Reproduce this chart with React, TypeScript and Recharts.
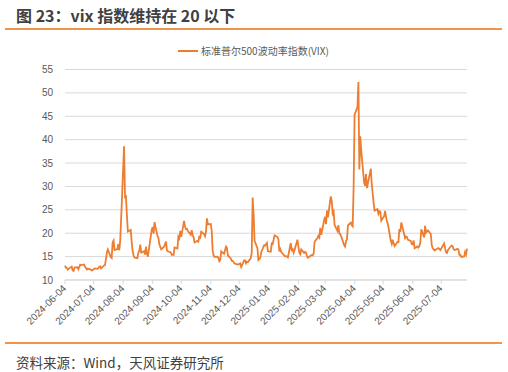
import { LineChart, Line, XAxis, YAxis, CartesianGrid } from "recharts";

// trading days, one row per month
const dates = [
  "2024-06-04","2024-06-05","2024-06-06","2024-06-07","2024-06-10","2024-06-11","2024-06-12","2024-06-13","2024-06-14","2024-06-17","2024-06-18","2024-06-20","2024-06-21","2024-06-24","2024-06-25","2024-06-26","2024-06-27","2024-06-28",
  "2024-07-01","2024-07-02","2024-07-03","2024-07-05","2024-07-08","2024-07-09","2024-07-10","2024-07-11","2024-07-12","2024-07-15","2024-07-16","2024-07-17","2024-07-18","2024-07-19","2024-07-22","2024-07-23","2024-07-24","2024-07-25","2024-07-26","2024-07-29","2024-07-30","2024-07-31",
  "2024-08-01","2024-08-02","2024-08-05","2024-08-06","2024-08-07","2024-08-08","2024-08-09","2024-08-12","2024-08-13","2024-08-14","2024-08-15","2024-08-16","2024-08-19","2024-08-20","2024-08-21","2024-08-22","2024-08-23","2024-08-26","2024-08-27","2024-08-28","2024-08-29","2024-08-30",
  "2024-09-03","2024-09-04","2024-09-05","2024-09-06","2024-09-09","2024-09-10","2024-09-11","2024-09-12","2024-09-13","2024-09-16","2024-09-17","2024-09-18","2024-09-19","2024-09-20","2024-09-23","2024-09-24","2024-09-25","2024-09-26","2024-09-27","2024-09-30",
  "2024-10-01","2024-10-02","2024-10-03","2024-10-04","2024-10-07","2024-10-08","2024-10-09","2024-10-10","2024-10-11","2024-10-14","2024-10-15","2024-10-16","2024-10-17","2024-10-18","2024-10-21","2024-10-22","2024-10-23","2024-10-24","2024-10-25","2024-10-28","2024-10-29","2024-10-30","2024-10-31",
  "2024-11-01","2024-11-04","2024-11-05","2024-11-06","2024-11-07","2024-11-08","2024-11-11","2024-11-12","2024-11-13","2024-11-14","2024-11-15","2024-11-18","2024-11-19","2024-11-20","2024-11-21","2024-11-22","2024-11-25","2024-11-26","2024-11-27","2024-11-29",
  "2024-12-02","2024-12-03","2024-12-04","2024-12-05","2024-12-06","2024-12-09","2024-12-10","2024-12-11","2024-12-12","2024-12-13","2024-12-16","2024-12-17","2024-12-18","2024-12-19","2024-12-20","2024-12-23","2024-12-24","2024-12-26","2024-12-27","2024-12-30","2024-12-31",
  "2025-01-02","2025-01-03","2025-01-06","2025-01-07","2025-01-08","2025-01-10","2025-01-13","2025-01-14","2025-01-15","2025-01-16","2025-01-17","2025-01-21","2025-01-22","2025-01-23","2025-01-24","2025-01-27","2025-01-28","2025-01-29","2025-01-30","2025-01-31",
  "2025-02-03","2025-02-04","2025-02-05","2025-02-06","2025-02-07","2025-02-10","2025-02-11","2025-02-12","2025-02-13","2025-02-14","2025-02-18","2025-02-19","2025-02-20","2025-02-21","2025-02-24","2025-02-25","2025-02-26","2025-02-27","2025-02-28",
  "2025-03-03","2025-03-04","2025-03-05","2025-03-06","2025-03-07","2025-03-10","2025-03-11","2025-03-12","2025-03-13","2025-03-14","2025-03-17","2025-03-18","2025-03-19","2025-03-20","2025-03-21","2025-03-24","2025-03-25","2025-03-26","2025-03-27","2025-03-28","2025-03-31",
  "2025-04-01","2025-04-02","2025-04-03","2025-04-04","2025-04-07","2025-04-08","2025-04-09","2025-04-10","2025-04-11","2025-04-14","2025-04-15","2025-04-16","2025-04-17","2025-04-21","2025-04-22","2025-04-23","2025-04-24","2025-04-25","2025-04-28","2025-04-29","2025-04-30",
  "2025-05-01","2025-05-02","2025-05-05","2025-05-06","2025-05-07","2025-05-08","2025-05-09","2025-05-12","2025-05-13","2025-05-14","2025-05-15","2025-05-16","2025-05-19","2025-05-20","2025-05-21","2025-05-22","2025-05-23","2025-05-27","2025-05-28","2025-05-29","2025-05-30",
  "2025-06-02","2025-06-03","2025-06-04","2025-06-05","2025-06-06","2025-06-09","2025-06-10","2025-06-11","2025-06-12","2025-06-13","2025-06-16","2025-06-17","2025-06-18","2025-06-20","2025-06-23","2025-06-24","2025-06-25","2025-06-26","2025-06-27","2025-06-30",
  "2025-07-01","2025-07-02","2025-07-03","2025-07-07","2025-07-08","2025-07-09","2025-07-10","2025-07-11","2025-07-14","2025-07-15","2025-07-16","2025-07-17","2025-07-18","2025-07-21","2025-07-22","2025-07-23","2025-07-24","2025-07-25","2025-07-28","2025-07-29","2025-07-30","2025-07-31",
];

const vix = [
  13.06,12.63,12.58,12.22,12.74,12.85,12.04,11.94,12.66,12.75,12.30,13.28,13.20,13.33,12.84,12.55,12.24,12.44,
  12.22,12.03,12.09,12.48,12.37,12.51,12.85,12.91,12.46,13.12,13.19,14.48,15.93,16.52,14.91,14.72,18.04,18.46,16.39,16.60,17.69,16.36,
  18.59,23.39,38.57,27.71,27.85,23.79,20.37,20.71,18.12,16.19,15.23,14.80,14.65,15.88,16.27,17.55,15.86,16.15,15.43,17.11,15.65,15.00,
  20.72,21.32,19.90,22.38,19.45,19.08,17.69,17.07,16.56,17.14,17.61,18.23,16.33,16.15,15.89,15.39,15.41,15.37,16.96,16.73,
  19.26,18.90,20.49,19.21,22.64,21.42,20.86,20.93,20.46,19.70,20.64,19.58,19.11,18.03,18.37,18.20,19.24,19.08,20.33,19.80,19.34,20.35,23.16,
  21.88,21.98,20.49,16.27,15.20,14.94,14.97,14.71,14.02,14.31,16.14,15.58,16.35,17.16,16.87,15.24,14.60,14.10,14.10,13.51,
  13.34,13.30,13.45,13.54,12.77,14.19,14.18,13.58,13.92,13.81,14.69,15.87,27.62,24.09,18.36,16.78,14.27,14.73,15.95,17.40,17.35,
  17.93,16.13,16.04,17.82,17.70,19.54,19.19,18.71,16.12,16.60,15.97,15.06,15.10,15.02,14.85,17.90,16.41,16.56,15.84,16.43,
  18.62,17.21,15.77,15.50,16.54,15.81,16.02,15.89,15.10,14.77,15.35,15.27,15.66,18.21,18.98,19.43,19.10,21.13,19.63,
  22.78,23.51,21.93,24.87,23.37,27.86,26.92,24.23,24.66,21.77,20.51,21.70,19.90,19.80,19.28,17.48,17.15,18.33,18.69,21.65,22.28,
  21.77,21.51,30.02,45.31,46.98,52.33,33.62,40.72,37.56,30.89,30.12,32.64,29.65,33.82,30.57,28.45,26.47,24.84,25.15,24.17,24.70,
  24.60,22.68,23.64,24.76,23.55,22.48,21.90,18.39,17.72,18.62,17.83,17.24,18.14,18.09,20.87,20.28,22.29,18.96,19.31,19.18,18.57,
  18.36,17.69,17.61,18.48,16.77,17.16,16.95,17.26,18.02,20.82,19.11,21.60,20.14,20.62,19.83,17.48,16.76,16.59,16.32,16.73,
  16.83,16.64,16.38,17.79,16.81,15.94,15.78,16.40,17.20,17.38,17.16,16.52,16.41,16.65,16.50,15.37,15.39,14.93,15.03,15.98,15.48,16.72,
];

const xTickLabels = [
  "2024-06-04","2024-07-04","2024-08-04","2024-09-04","2024-10-04","2024-11-04","2024-12-04",
  "2025-01-04","2025-02-04","2025-03-04","2025-04-04","2025-05-04","2025-06-04","2025-07-04",
];
const yTicks = [10, 15, 20, 25, 30, 35, 40, 45, 50, 55];

const ORANGE = "#ED7D31";
const SANS = "Arial, 'Liberation Sans', 'Noto Sans CJK SC', sans-serif";
const CJK = "'Noto Sans CJK SC', sans-serif";

const data = dates.map((d, i) => ({ t: Date.parse(d), vix: vix[i] }));
const xTicks = xTickLabels.map((d) => Date.parse(d));
const fmtDate = (v: number) => new Date(v).toISOString().slice(0, 10);

function DateTick(props: any) {
  const { x, y, payload } = props;
  const tx = x + 2;
  const ty = y + 3;
  return (
    <text x={tx} y={ty} transform={`rotate(-45 ${tx} ${ty})`} textAnchor="end" fontSize={10} fill="#595959" fontFamily={SANS}>
      {fmtDate(payload.value)}
    </text>
  );
}

export default function App() {
  return (
    <div style={{ position: "absolute", left: 0, top: 0, width: 508, height: 372, background: "#fff", overflow: "hidden" }}>
      <div style={{ position: "absolute", left: 16, top: 3, fontFamily: CJK, fontSize: 16, fontWeight: 700, color: "#404040", whiteSpace: "nowrap" }}>
        图 23：vix 指数维持在 20 以下
      </div>
      <div style={{ position: "absolute", left: 5, top: 28, width: 497, height: 2, background: "#F0944A" }} />

      <LineChart width={508} height={372} data={data} margin={{ top: 69.5, right: 41, bottom: 32, left: 15 }} style={{ position: "absolute", left: 0, top: 0 }}>
        <CartesianGrid horizontal vertical={false} stroke="#d9d9d9" />
        <XAxis
          dataKey="t"
          type="number"
          domain={[Date.parse(dates[0]), Date.parse(dates[dates.length - 1])]}
          ticks={xTicks}
          interval={0}
          height={60}
          axisLine={{ stroke: "#d9d9d9" }}
          tickLine={{ stroke: "#d9d9d9" }}
          tickSize={4}
          tick={<DateTick />}
        />
        <YAxis
          domain={[10, 55]}
          ticks={yTicks}
          interval={0}
          width={50}
          axisLine={false}
          tickLine={false}
          tickSize={0}
          tickMargin={12}
          tick={{ fontSize: 10, fill: "#595959", fontFamily: SANS }}
        />
        <Line type="linear" dataKey="vix" stroke={ORANGE} strokeWidth={1.8} dot={false} isAnimationActive={false} />
      </LineChart>

      <div style={{ position: "absolute", left: 178, top: 43, display: "flex", alignItems: "center", fontFamily: CJK, fontSize: 10, color: "#595959", whiteSpace: "nowrap" }}>
        <span style={{ display: "inline-block", width: 20, height: 2, background: ORANGE, marginRight: 3 }} />
        标准普尔500波动率指数(VIX)
      </div>

      <div style={{ position: "absolute", left: 5, top: 342, width: 497, height: 2, background: "#F0944A" }} />
      <div style={{ position: "absolute", left: 16, top: 352, fontFamily: CJK, fontSize: 13.5, color: "#404040", whiteSpace: "nowrap" }}>
        资料来源：Wind，天风证券研究所
      </div>
    </div>
  );
}
